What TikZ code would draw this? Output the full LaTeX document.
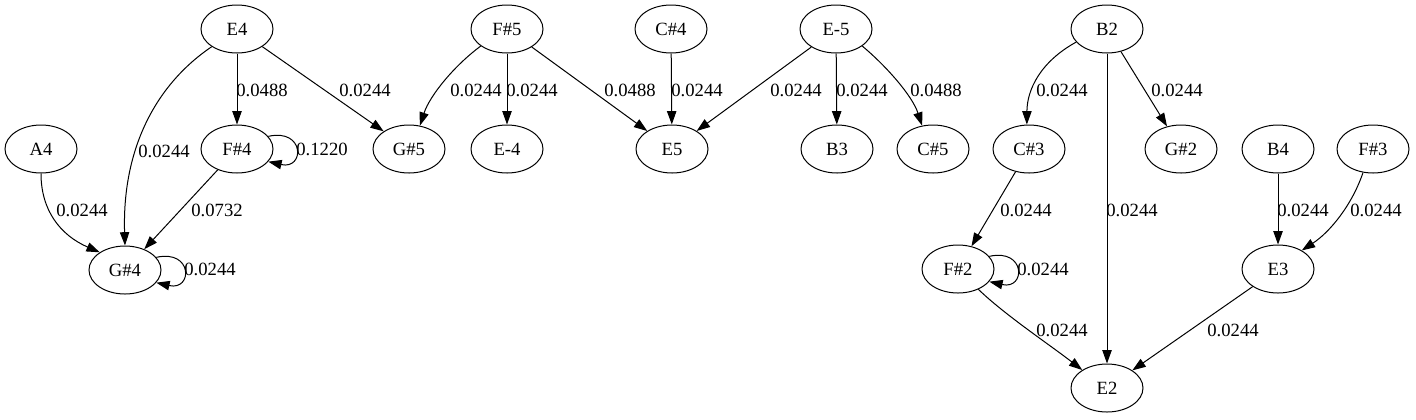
\documentclass[tikz,border=0pt]{standalone}
\usepackage{fontspec}
\setmainfont{Liberation Serif}
\usetikzlibrary{shapes.geometric, arrows.meta}

\begin{document}
\begin{tikzpicture}[
        x=0.75pt, y=-0.75pt,
        note/.style={ellipse, draw, line width=0.75pt, minimum width=54pt, minimum height=36pt, inner sep=0pt, font=\fontsize{14}{16}\selectfont},
        link/.style={draw, line width=0.75pt, -{Triangle[length=10pt,width=7pt]}},
        weight/.style={inner sep=0pt, font=\fontsize{14}{16}\selectfont}
    ]
        \useasboundingbox (0,0) rectangle (1416,419);

        %Top row
        \node[note] (e4) at (237,29) {E4};
        \node[note] (fs5) at (507,29) {F\#5};
        \node[note] (cs4) at (671,29) {C\#4};
        \node[note] (eb5) at (836,29) {E-5};
        \node[note] (b2) at (1107,29) {B2};

        %Middle row
        \node[note] (a4) at (41,149) {A4};
        \node[note] (fs4) at (237,149) {F\#4};
        \node[note] (gs5) at (409,149) {G\#5};
        \node[note] (eb4) at (507,149) {E-4};
        \node[note] (e5) at (672,149) {E5};
        \node[note] (b3) at (837,149) {B3};
        \node[note] (cs5) at (933,149) {C\#5};
        \node[note] (cs3) at (1029,149) {C\#3};
        \node[note] (gs2) at (1181,149) {G\#2};
        \node[note] (b4) at (1278,149) {B4};
        \node[note] (fs3) at (1373,149) {F\#3};

        %Lower rows
        \node[note] (gs4) at (125,270) {G\#4};
        \node[note] (fs2) at (958,269) {F\#2};
        \node[note] (e3) at (1278,269) {E3};
        \node[note] (e2) at (1107,388) {E2};

        %Left group
        \draw[link] (e4.-145) .. controls (155,85) and (122,150) .. (gs4.north);
        \node[weight] (w_e4_gs4) at (164,151) {0.0244};
        \draw[link] (e4) -- (fs4);
        \node[weight] (w_e4_fs4) at (262,90) {0.0488};
        \draw[link] (e4) -- (gs5);
        \node[weight] (w_e4_gs5) at (365,90) {0.0244};
        \draw[link] (fs4.22) .. controls (305,128) and (305,170) .. (fs4.-22);
        \node[weight] (w_fs4_loop) at (322,149) {0.1220};
        \draw[link] (a4.south) .. controls (41,210) and (60,235) .. (gs4.145);
        \node[weight] (w_a4_gs4) at (82,210) {0.0244};
        \draw[link] (fs4) -- (gs4);
        \node[weight] (w_fs4_gs4) at (217,210) {0.0732};
        \draw[link] (gs4.22) .. controls (193,249) and (193,291) .. (gs4.-22);
        \node[weight] (w_gs4_loop) at (210,269) {0.0244};

        %Middle group
        \draw[link] (fs5.-147) .. controls (455,65) and (430,95) .. (gs5.65);
        \node[weight] (w_fs5_gs5) at (476,90) {0.0244};
        \draw[link] (fs5) -- (eb4);
        \node[weight] (w_fs5_eb4) at (532,90) {0.0244};
        \draw[link] (fs5) -- (e5);
        \node[weight] (w_fs5_e5) at (630,90) {0.0488};
        \draw[link] (cs4) -- (e5);
        \node[weight] (w_cs4_e5) at (697,90) {0.0244};
        \draw[link] (eb5) -- (e5);
        \node[weight] (w_eb5_e5) at (796,90) {0.0244};
        \draw[link] (eb5) -- (b3);
        \node[weight] (w_eb5_b3) at (862,90) {0.0244};
        \draw[link] (eb5.-33) .. controls (885,65) and (912,95) .. (cs5.115);
        \node[weight] (w_eb5_cs5) at (936,90) {0.0488};

        %Right group
        \draw[link] (b2.-157) .. controls (1040,62) and (1027,90) .. (cs3.95);
        \node[weight] (w_b2_cs3) at (1062,90) {0.0244};
        \draw[link] (b2) -- (gs2);
        \node[weight] (w_b2_gs2) at (1177,90) {0.0244};
        \draw[link] (b2) -- (e2);
        \node[weight] (w_b2_e2) at (1132,210) {0.0244};
        \draw[link] (cs3) -- (fs2);
        \node[weight] (w_cs3_fs2) at (1026,210) {0.0244};
        \draw[link] (fs2.22) .. controls (1026,248) and (1026,290) .. (fs2.-22);
        \node[weight] (w_fs2_loop) at (1043,269) {0.0244};
        \draw[link] (b4) -- (e3);
        \node[weight] (w_b4_e3) at (1303,210) {0.0244};
        \draw[link] (fs3.-113) .. controls (1352,205) and (1330,232) .. (e3.38);
        \node[weight] (w_fs3_e3) at (1376,210) {0.0244};
        \draw[link] (fs2.-45) .. controls (1005,315) and (1050,345) .. (e2.144);
        \node[weight] (w_fs2_e2) at (1062,330) {0.0244};
        \draw[link] (e3) -- (e2);
        \node[weight] (w_e3_e2) at (1233,330) {0.0244};

    \end{tikzpicture}
\end{document}
